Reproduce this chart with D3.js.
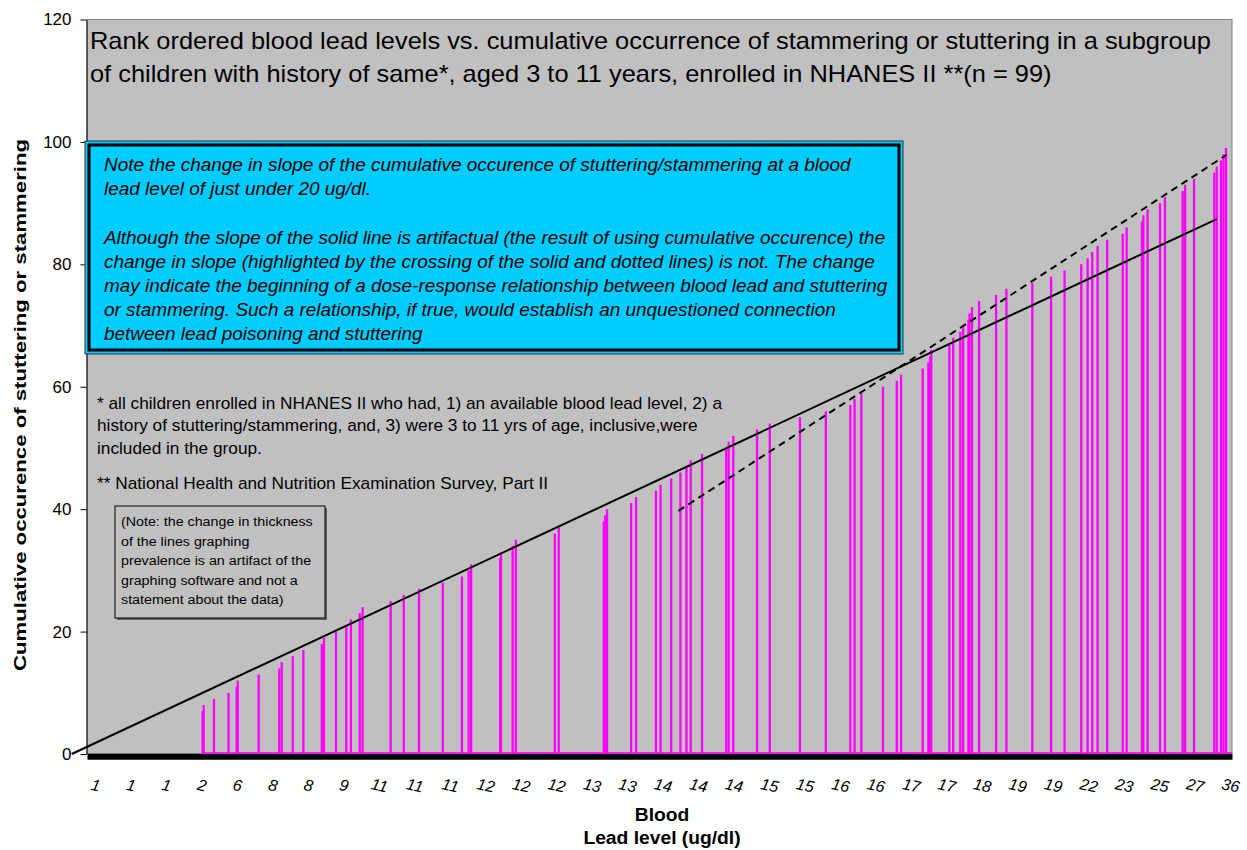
<!DOCTYPE html>
<html>
<head>
<meta charset="utf-8">
<script src="https://cdn.jsdelivr.net/npm/d3@7"></script>
<style>
  body { margin: 0; background: #fff; }
  text { font-family: "Liberation Sans", Arial, sans-serif; }
</style>
</head>
<body>
<svg id="chart"></svg>
<script>
var width = 1247;
var height = 850;
var plotLeft = 87, plotRight = 1232, plotTop = 19.5, plotBottom = 754;

// lead level (ug/dl) printed under every 100th ranked child
var leadLabels = [1, 1, 1, 2, 6, 8, 8, 9, 11, 11, 11, 12, 12, 12, 13, 13, 14, 14, 14,
  15, 15, 16, 16, 17, 17, 18, 19, 19, 22, 23, 25, 27, 36];
var labelRanks = leadLabels.map((d, i) => 23 + 100 * i);

// rank of each child with stuttering/stammering, and cumulative count at that rank
var stutterRank = [326, 329, 358, 399, 422, 425, 484, 542, 549, 580, 610, 662, 668, 702,
  731, 744, 769, 777, 856, 893, 936, 1003, 1057, 1076, 1083, 1165, 1167, 1200, 1209,
  1319, 1330, 1457, 1461, 1466, 1534, 1548, 1604, 1617, 1647, 1673, 1690, 1702, 1734,
  1802, 1809, 1822, 1889, 1925, 2010, 2083, 2152, 2164, 2183, 2244, 2283, 2295, 2356,
  2372, 2377, 2380, 2431, 2442, 2462, 2470, 2485, 2488, 2495, 2515, 2563, 2592, 2665,
  2718, 2756, 2803, 2821, 2834, 2849, 2876, 2920, 2931, 2974, 2978, 2990, 3025, 3039,
  3089, 3096, 3121, 3178, 3185, 3197, 3204, 3211];
var cumulative = [7, 8, 9, 10, 11, 12, 13, 14, 15, 16, 17, 18, 19, 20, 21, 22, 23, 24, 25,
  26, 27, 28, 29, 30, 31, 32, 33, 34, 35, 36, 37, 38, 39, 40, 41, 42, 43, 44, 45, 46, 47,
  48, 49, 50, 51, 52, 53, 54, 55, 56, 57, 58, 59, 60, 61, 62, 63, 64, 65, 66, 67, 68, 69,
  70, 71, 72, 73, 74, 75, 76, 77, 78, 79, 80, 81, 82, 83, 84, 85, 86, 87, 88, 89, 90, 91,
  92, 93, 94, 95, 96, 97, 98, 99];

// hand drawn guide lines
var solidRank = [-43, 3185];
var solidValue = [0, 87.4];
var dashedRank = [1667, 3213];
var dashedValue = [39.7, 97.9];

var titleLines = [
  "Rank ordered blood lead levels vs. cumulative occurrence of stammering or stuttering in a subgroup",
  "of children with history of same*, aged 3 to 11 years, enrolled in NHANES II **(n = 99)"
];
var boxLines = [
  "Note the change in slope of the cumulative occurence of stuttering/stammering at a blood",
  "lead level of just under 20 ug/dl.",
  "",
  "Although the slope of the solid line is artifactual (the result of using cumulative occurence) the",
  "change in slope (highlighted by the crossing of the solid and dotted lines) is not. The change",
  "may indicate the beginning of a dose-response relationship between blood lead and stuttering",
  "or stammering. Such a relationship, if true, would establish an unquestioned connection",
  "between lead poisoning and stuttering"
];
var footLines = [
  "* all children enrolled in NHANES II who had, 1) an available blood lead level, 2) a",
  "history of stuttering/stammering, and, 3) were 3 to 11 yrs of age, inclusive,were",
  "included in the group."
];
var surveyLine = "** National Health and Nutrition Examination Survey, Part II";
var smallLines = [
  "(Note: the change in thickness",
  "of the  lines graphing",
  "prevalence is an artifact of the",
  "graphing software and not a",
  "statement about the data)"
];

var xScale = d3.scaleLinear().domain([0, 3228]).range([plotLeft, plotRight]);
var yScale = d3.scaleLinear().domain([0, 120]).range([plotBottom, plotTop]);

var svg = d3.select("#chart")
    .attr("width", width)
    .attr("height", height);

svg.append("rect")
    .attr("x", plotLeft).attr("y", plotTop)
    .attr("width", plotRight - plotLeft).attr("height", plotBottom - plotTop)
    .attr("fill", "#c0c0c0")
    .attr("stroke", "#808080");

// x axis: thick black bar with the lead labels
var xAxis = svg.append("g")
    .attr("transform", "translate(0," + (plotBottom + 2.3) + ")")
    .call(d3.axisBottom(xScale)
      .tickValues(labelRanks)
      .tickFormat((d, i) => leadLabels[i])
      .tickSize(0)
      .tickSizeOuter(0));
xAxis.select(".domain").attr("stroke", "#000").attr("stroke-width", 6);
xAxis.selectAll("text")
    .attr("y", 0)
    .attr("dy", "0.35em")
    .attr("transform", "translate(0,29) rotate(12)")
    .attr("font-size", 16)
    .attr("font-style", "italic")
    .attr("fill", "#000");

// magenta spikes
svg.append("line")
    .attr("x1", xScale(stutterRank[0])).attr("x2", plotRight)
    .attr("y1", yScale(0) - 0.8).attr("y2", yScale(0) - 0.8)
    .attr("stroke", "#ff00ff").attr("stroke-width", 1.8);

svg.selectAll(".spike")
  .data(stutterRank)
  .enter()
  .append("line")
    .attr("class", "spike")
    .attr("x1", d => xScale(d))
    .attr("x2", d => xScale(d))
    .attr("y1", yScale(0))
    .attr("y2", (d, i) => yScale(cumulative[i]))
    .attr("stroke", "#ff00ff")
    .attr("stroke-width", 2.3);

var line = d3.line()
  .x(d => xScale(d[0]))
  .y(d => yScale(d[1]));

svg.append("path")
    .attr("d", line(d3.zip(solidRank, solidValue)))
    .attr("stroke", "#000").attr("stroke-width", 2).attr("fill", "none");
svg.append("path")
    .attr("d", line(d3.zip(dashedRank, dashedValue)))
    .attr("stroke", "#000").attr("stroke-width", 2).attr("fill", "none")
    .attr("stroke-dasharray", "7,5");

// y axis
var yAxis = svg.append("g")
    .attr("transform", "translate(" + (plotLeft - 0.5) + ",0)")
    .call(d3.axisLeft(yScale)
      .tickValues(d3.range(0, 121, 20))
      .tickSize(6)
      .tickSizeOuter(0)
      .tickPadding(9));
yAxis.select(".domain").attr("stroke", "#000");
yAxis.selectAll("text").attr("font-size", 17).attr("fill", "#000");

svg.append("text")
    .attr("transform", "translate(26,405) rotate(-90)")
    .attr("text-anchor", "middle")
    .attr("font-size", 17)
    .attr("font-weight", "bold")
    .attr("textLength", 532)
    .attr("lengthAdjust", "spacingAndGlyphs")
    .text("Cumulative occurence of stuttering or stammering");

// text block drawn a little wider than the font's own metrics, as in the original export
function textBlock(lines, x, y0, step, size, stretch, italic) {
  var g = svg.append("g")
      .attr("transform", "translate(" + x + ",0) scale(" + stretch + ",1)");
  g.selectAll("text")
    .data(lines)
    .enter()
    .append("text")
      .attr("x", 0)
      .attr("y", (d, i) => y0 + i * step)
      .attr("font-size", size)
      .attr("font-style", italic ? "italic" : "normal")
      .text(d => d);
  return g;
}

var xTitle = svg.append("g")
    .attr("transform", "translate(662,0) scale(1.07,1)")
    .attr("font-size", 18)
    .attr("font-weight", "bold")
    .attr("text-anchor", "middle");
xTitle.append("text").attr("y", 821).text("Blood");
xTitle.append("text").attr("y", 844).text("Lead level (ug/dl)");

// title
textBlock(titleLines, 90, 49.5, 32.5, 23, 1.105, false);

// blue note box
svg.append("rect")
    .attr("x", 85).attr("y", 141).attr("width", 818).attr("height", 213)
    .attr("fill", "#00ccff").attr("stroke", "#333").attr("stroke-width", 1);
svg.append("rect")
    .attr("x", 89).attr("y", 145).attr("width", 810).attr("height", 205)
    .attr("fill", "none").attr("stroke", "#000").attr("stroke-width", 3);
textBlock(boxLines, 104, 171, 24.2, 17.5, 1.081, true);

// footnotes
textBlock(footLines, 97, 409, 22.5, 16, 1.079, false);
textBlock([surveyLine], 97, 489, 0, 16, 1.079, false);

// small note box
svg.append("rect")
    .attr("x", 117).attr("y", 508).attr("width", 210).attr("height", 112)
    .attr("fill", "#606060");
svg.append("rect")
    .attr("x", 115).attr("y", 506).attr("width", 210).attr("height", 112)
    .attr("fill", "#c0c0c0").attr("stroke", "#000").attr("stroke-width", 1);
textBlock(smallLines, 121, 526, 19.6, 13.5, 1.057, false);
</script>
</body>
</html>
